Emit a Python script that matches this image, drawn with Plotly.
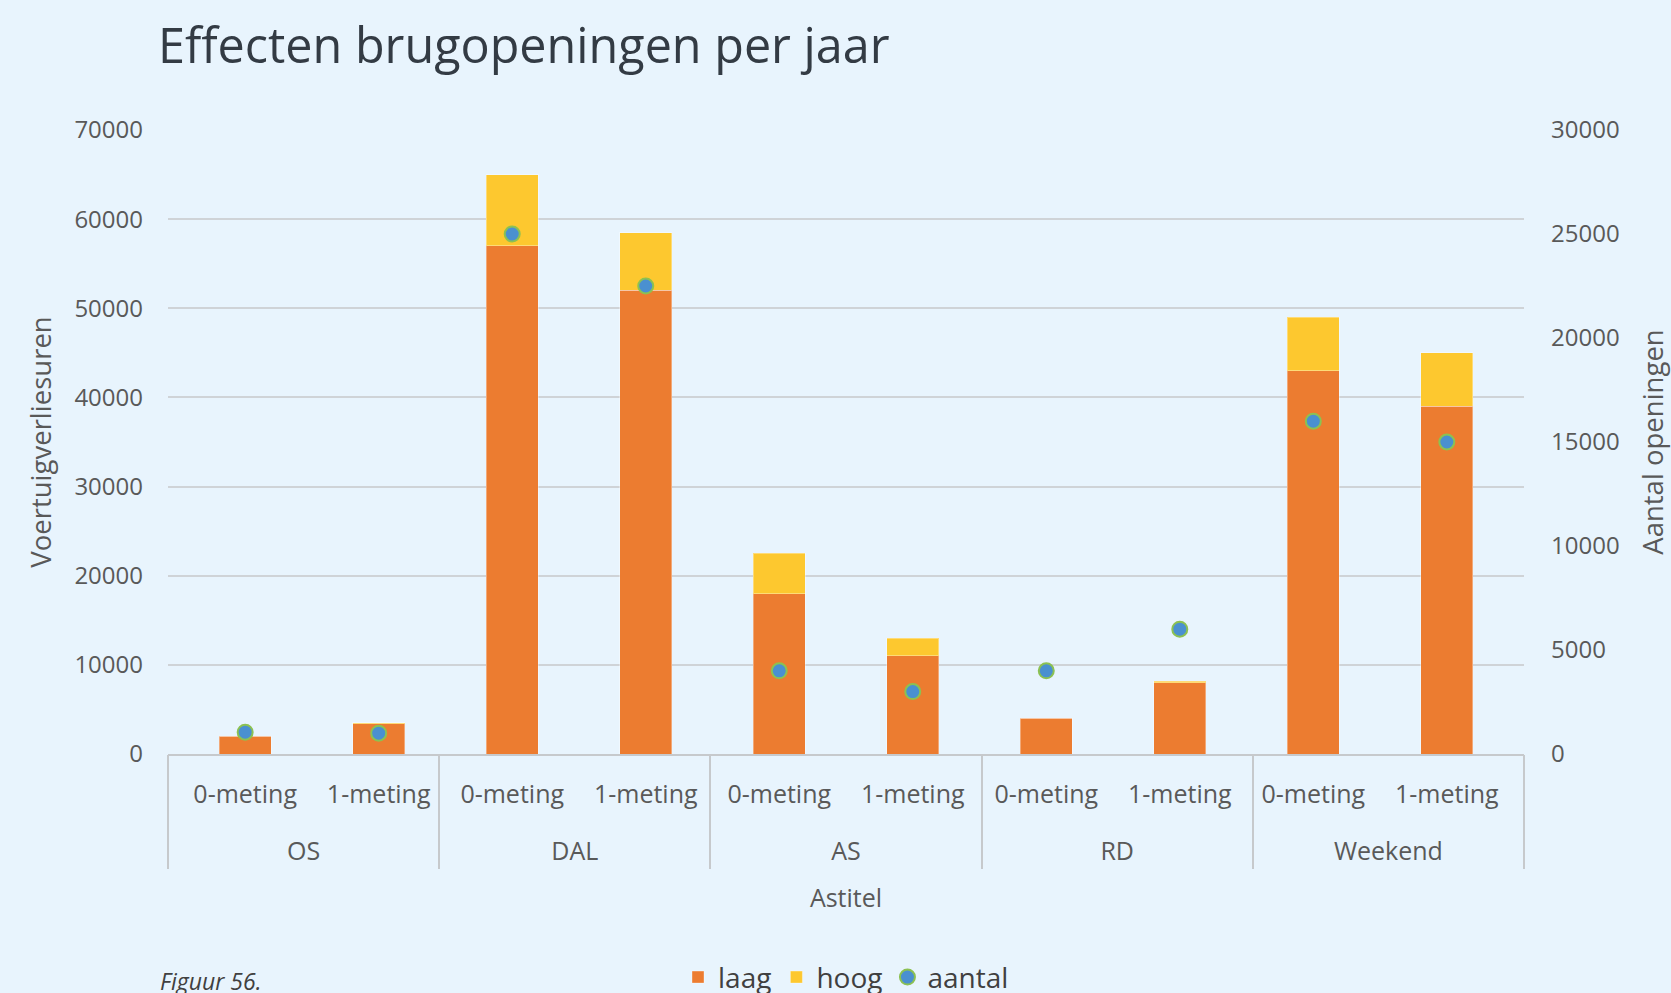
import plotly.graph_objects as go

# Categories: axis group (Astitel) and measurement
groepen = ["OS", "OS", "DAL", "DAL", "AS", "AS", "RD", "RD", "Weekend", "Weekend"]
metingen = ["0-meting", "1-meting"] * 5

# Vehicle loss hours (left axis), stacked
laag = [2000, 3400, 57000, 52000, 18000, 11000, 4000, 8000, 43000, 39000]
hoog = [0, 100, 8000, 6500, 4500, 2000, 0, 150, 6000, 6000]

# Number of bridge openings (right axis)
aantal = [1050, 1000, 25000, 22500, 4000, 3000, 4000, 6000, 16000, 15000]

y_ticks_left = [0, 10000, 20000, 30000, 40000, 50000, 60000, 70000]
y_ticks_right = [0, 5000, 10000, 15000, 20000, 25000, 30000]

BG = "#e8f4fd"
TXT = "#595959"
LINE = "#c6c9cc"
FONT = "Open Sans"

# one unique category key per bar, labelled with its measurement
keys = [f"{g}|{m}" for g, m in zip(groepen, metingen)]
n = len(keys)

# group labels centred over their bars, dividers at group boundaries
uniek = list(dict.fromkeys(groepen))
centra = []
grenzen = [-0.5]
for g in uniek:
    idx = [i for i, v in enumerate(groepen) if v == g]
    centra.append(sum(idx) / len(idx))
    grenzen.append(idx[-1] + 0.5)

fig = go.Figure()
fig.add_trace(go.Bar(
    x=keys, y=laag, name="laag",
    marker=dict(color="#ec7c30", line=dict(color="rgba(255,255,255,0.35)", width=1)),
))
fig.add_trace(go.Bar(
    x=keys, y=hoog, name="hoog",
    marker=dict(color="#fdc82f", line=dict(color="rgba(255,255,255,0.35)", width=1)),
))
fig.add_trace(go.Scatter(
    x=keys, y=aantal, name="aantal", yaxis="y2", mode="markers",
    marker=dict(color="#4a90d0", size=15, line=dict(color="#8cc152", width=2)),
))
# empty helper traces so the group-label and divider axes get drawn
for ax, xs in (("x2", centra), ("x3", grenzen)):
    fig.add_trace(go.Scatter(
        x=xs, y=[None] * len(xs), xaxis=ax, yaxis="y", mode="markers",
        showlegend=False, hoverinfo="skip",
    ))

fig.update_layout(
    width=1671, height=993,
    paper_bgcolor=BG, plot_bgcolor=BG,
    barmode="stack", bargap=0.61,
    font=dict(family=FONT, color=TXT, size=24),
    margin=dict(l=168, r=147, t=130, b=238.5, autoexpand=False),
    title=dict(
        text="Effecten brugopeningen per jaar",
        font=dict(family=FONT, size=48.5, color="#333b44"),
        x=158 / 1671, xanchor="left", xref="container",
        y=1 - 46 / 993, yanchor="middle", yref="container",
    ),
    # measurement labels
    xaxis=dict(
        type="category", tickvals=keys, ticktext=metingen,
        showline=True, linecolor=LINE, linewidth=2,
        ticks="", showgrid=False, ticklabelstandoff=17,
        tickfont=dict(size=25, color=TXT),
    ),
    # group labels and axis title
    xaxis2=dict(
        overlaying="x", anchor="y", side="bottom",
        type="linear", range=[-0.5, n - 0.5],
        tickvals=centra, ticktext=uniek, ticks="",
        showgrid=False, showline=False, zeroline=False,
        ticklabelstandoff=80,
        tickfont=dict(size=25, color=TXT),
        title=dict(text="Astitel", font=dict(size=25, color=TXT), standoff=23),
    ),
    # group dividers
    xaxis3=dict(
        overlaying="x", anchor="y", side="bottom",
        type="linear", range=[-0.5, n - 0.5],
        tickvals=grenzen, ticks="outside", ticklen=114,
        tickcolor=LINE, tickwidth=2, showticklabels=False,
        showgrid=False, showline=False, zeroline=False,
    ),
    yaxis=dict(
        range=[0, 70000], tickvals=y_ticks_left,
        ticktext=[str(v) for v in y_ticks_left],
        showgrid=True, gridcolor="#cfd3d7", gridwidth=2,
        zeroline=False, ticklabelstandoff=24,
        tickfont=dict(size=24, color=TXT),
        title=dict(text="Voertuigverliesuren", font=dict(size=27.5, color=TXT), standoff=14),
    ),
    yaxis2=dict(
        overlaying="y", side="right",
        range=[0, 30000], tickvals=y_ticks_right,
        ticktext=[str(v) for v in y_ticks_right],
        showgrid=False, zeroline=False, ticklabelstandoff=26,
        tickfont=dict(size=24, color=TXT),
        title=dict(text="Aantal openingen", font=dict(size=27.5, color=TXT), standoff=27),
    ),
    legend=dict(
        orientation="h", x=0.5, xanchor="center",
        y=-0.358, yanchor="middle", traceorder="normal",
        font=dict(size=28, color="#404040"), bgcolor="rgba(0,0,0,0)",
        itemwidth=30,
    ),
    annotations=[dict(
        text="<i>Figuur 56.</i>", xref="paper", yref="paper",
        x=(158 - 168) / 1356, y=(754.5 - 982) / 624.5,
        xanchor="left", yanchor="middle", showarrow=False,
        font=dict(family=FONT, size=23, color="#404040"),
    )],
)

fig.write_html("out.html")
